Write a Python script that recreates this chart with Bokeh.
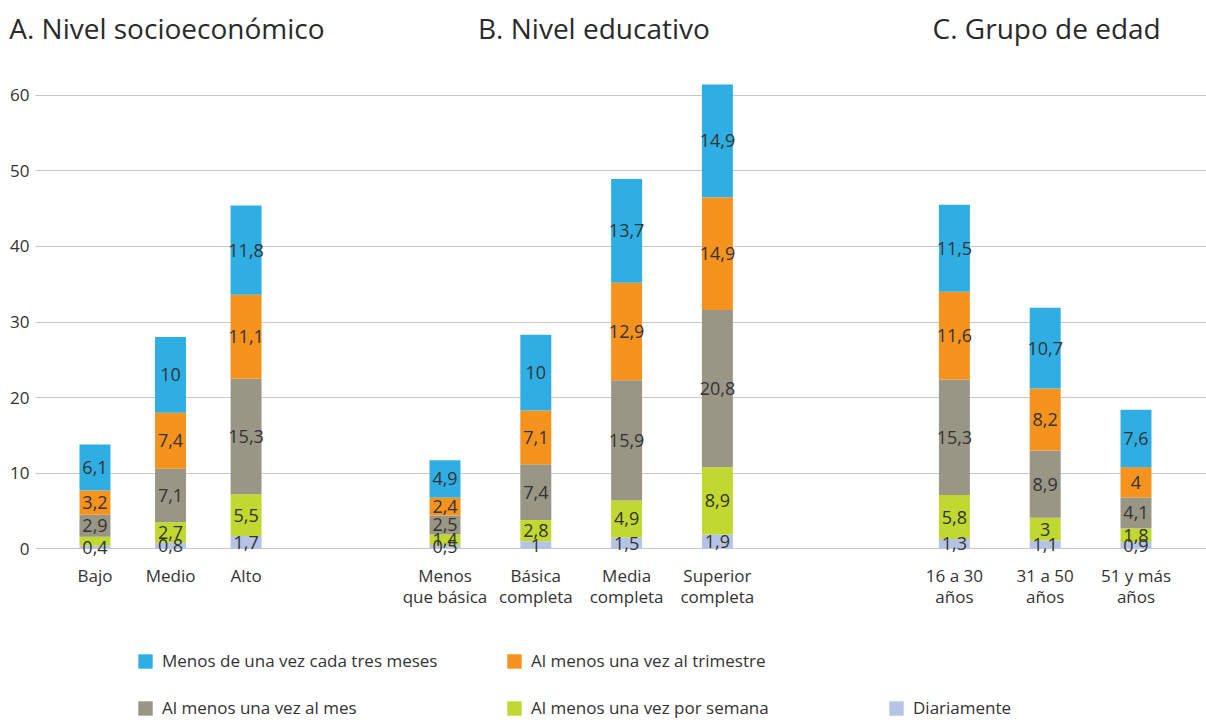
from bokeh.plotting import figure
from bokeh.models import ColumnDataSource, Range1d, FixedTicker, Legend, LegendItem
from bokeh.embed import file_html
from bokeh.resources import INLINE
from bokeh.core.properties import value

# ---------------- data ----------------
group_titles = ["A. Nivel socioeconómico", "B. Nivel educativo", "C. Grupo de edad"]
categories_a = ["Bajo", "Medio", "Alto"]
categories_b = ["Menos\nque básica", "Básica\ncompleta", "Media\ncompleta", "Superior\ncompleta"]
categories_c = ["16 a 30\naños", "31 a 50\naños", "51 y más\naños"]

series = [
    "Diariamente",
    "Al menos una vez por semana",
    "Al menos una vez al mes",
    "Al menos una vez al trimestre",
    "Menos de una vez cada tres meses",
]
diariamente      = [0.4, 0.8, 1.7, 0.5, 1.0, 1.5, 1.9, 1.3, 1.1, 0.9]
por_semana       = [1.2, 2.7, 5.5, 1.4, 2.8, 4.9, 8.9, 5.8, 3.0, 1.8]
al_mes           = [2.9, 7.1, 15.3, 2.5, 7.4, 15.9, 20.8, 15.3, 8.9, 4.1]
al_trimestre     = [3.2, 7.4, 11.1, 2.4, 7.1, 12.9, 14.9, 11.6, 8.2, 4.0]
menos_tres_meses = [6.1, 10.0, 11.8, 4.9, 10.0, 13.7, 14.9, 11.5, 10.7, 7.6]
# segment labels not shown in the original
hidden_labels = [("Bajo", "Al menos una vez por semana")]
y_ticks = [0, 10, 20, 30, 40, 50, 60]

# legend columns, as arranged in the original
legend_col1 = ["Menos de una vez cada tres meses", "Al menos una vez al mes"]
legend_col2 = ["Al menos una vez al trimestre", "Al menos una vez por semana"]
legend_col3 = ["Diariamente"]

# ---------------- styles / layout ----------------
colors = ["#B5C4E6", "#C0D82F", "#999686", "#F6921E", "#2FAEE4"]
FONT = "Open Sans"
TEXT = "#333333"
W, H = 1206, 720
FRAME_LEFT = 35          # px where the value axis sits
UNIT = 90.8              # px per x unit
YPX = 7.56               # px per y unit
Y0 = 548.3               # px (from top) of y = 0
group_start = [0.655, 4.51, 10.12]
group_step = [0.832, 1.0, 1.0]
title_shift = [-0.04, 0.14, 0.016]
title_y = 68.95
bar_width = 0.341
legend_locs = [(136, 1), (505, 1), (887, 1)]

group_cats = [categories_a, categories_b, categories_c]
xs, cats, title_x = [], [], []
for g, (cl, s, st) in enumerate(zip(group_cats, group_start, group_step)):
    gx = [round(s + i * st, 3) for i in range(len(cl))]
    xs += gx
    cats += cl
    title_x.append(sum(gx) / len(gx) + title_shift[g])

values = [diariamente, por_semana, al_mes, al_trimestre, menos_tres_meses]
src = {"x": xs}
for name, vals in zip(series, values):
    src[name] = vals
source = ColumnDataSource(src)

lx, ly, lt = [], [], []
for i, cat in enumerate(cats):
    bottom = 0.0
    for name, vals in zip(series, values):
        v = vals[i]
        if (cat.split("\n")[0], name) not in hidden_labels:
            lx.append(xs[i])
            ly.append(bottom + v / 2)
            lt.append(f"{v:g}".replace(".", ","))
        bottom += v
labels = ColumnDataSource(dict(x=lx, y=ly, text=lt))

x_end = (W - FRAME_LEFT) / UNIT
p = figure(
    width=W, height=H,
    x_range=Range1d(-FRAME_LEFT / UNIT, x_end),
    y_range=Range1d(-(H - Y0) / YPX, Y0 / YPX),
    output_backend="svg", toolbar_location=None,
    min_border_left=0, min_border_right=0, min_border_top=0, min_border_bottom=0,
)
p.outline_line_color = None

renderers = p.vbar_stack(series, x="x", width=bar_width, color=colors,
                         line_color=None, source=source)

p.text(x="x", y="y", text="text", source=labels,
       text_font=value(FONT), text_font_size="18px", text_color=TEXT,
       text_align="center", text_baseline="middle")

p.text(x=title_x, y=[title_y] * len(title_x), text=group_titles,
       text_font=value(FONT), text_font_size="28px", text_color="#2a2a2a",
       text_align="center", text_baseline="middle")

# ---- axes (fixed inside the frame) ----
p.xgrid.visible = False
ygrid = p.ygrid[0]
ygrid.ticker = FixedTicker(ticks=y_ticks)
ygrid.grid_line_color = "#c8c8c8"
ygrid.grid_line_width = 1
has_cb = "cross_bounds" in ygrid.properties()
if has_cb:
    ygrid.cross_bounds = (0, x_end)
else:
    ygrid.visible = False
    p.yaxis.major_tick_in = int(W - FRAME_LEFT)
    p.yaxis.major_tick_line_color = "#c8c8c8"
    p.yaxis.level = "underlay"

p.yaxis.fixed_location = 0
p.yaxis.ticker = FixedTicker(ticks=y_ticks)
p.yaxis.axis_line_color = None
if has_cb:
    p.yaxis.major_tick_line_color = None
p.yaxis.minor_tick_line_color = None
p.yaxis.major_tick_out = 0
p.yaxis.major_label_standoff = 6
p.yaxis.major_label_text_font = FONT
p.yaxis.major_label_text_font_size = "17px"
p.yaxis.major_label_text_color = TEXT

p.xaxis.fixed_location = 0
p.xaxis.ticker = FixedTicker(ticks=xs)
p.xaxis.major_label_overrides = {x: c for x, c in zip(xs, cats)}
p.xaxis.axis_line_color = None
p.xaxis.major_tick_line_color = None
p.xaxis.minor_tick_line_color = None
p.xaxis.major_tick_out = 0
p.xaxis.major_tick_in = 0
p.xaxis.major_label_standoff = 15
p.xaxis.major_label_text_font = FONT
p.xaxis.major_label_text_font_size = "17px"
p.xaxis.major_label_text_line_height = 0.9
p.xaxis.major_label_text_color = TEXT

# ---- legend: three columns, two rows ----
rmap = dict(zip(series, renderers))
for names, loc in zip([legend_col1, legend_col2, legend_col3], legend_locs):
    leg = Legend(items=[LegendItem(label=n, renderers=[rmap[n]]) for n in names],
                 orientation="vertical", location=loc, padding=0, margin=0,
                 border_line_color=None, background_fill_alpha=0,
                 glyph_width=18, glyph_height=18, label_standoff=8,
                 label_height=22, spacing=24,
                 label_text_font=FONT, label_text_font_size="17px",
                 label_text_color=TEXT)
    p.add_layout(leg)

open("out.html", "w").write(file_html(p, INLINE))
